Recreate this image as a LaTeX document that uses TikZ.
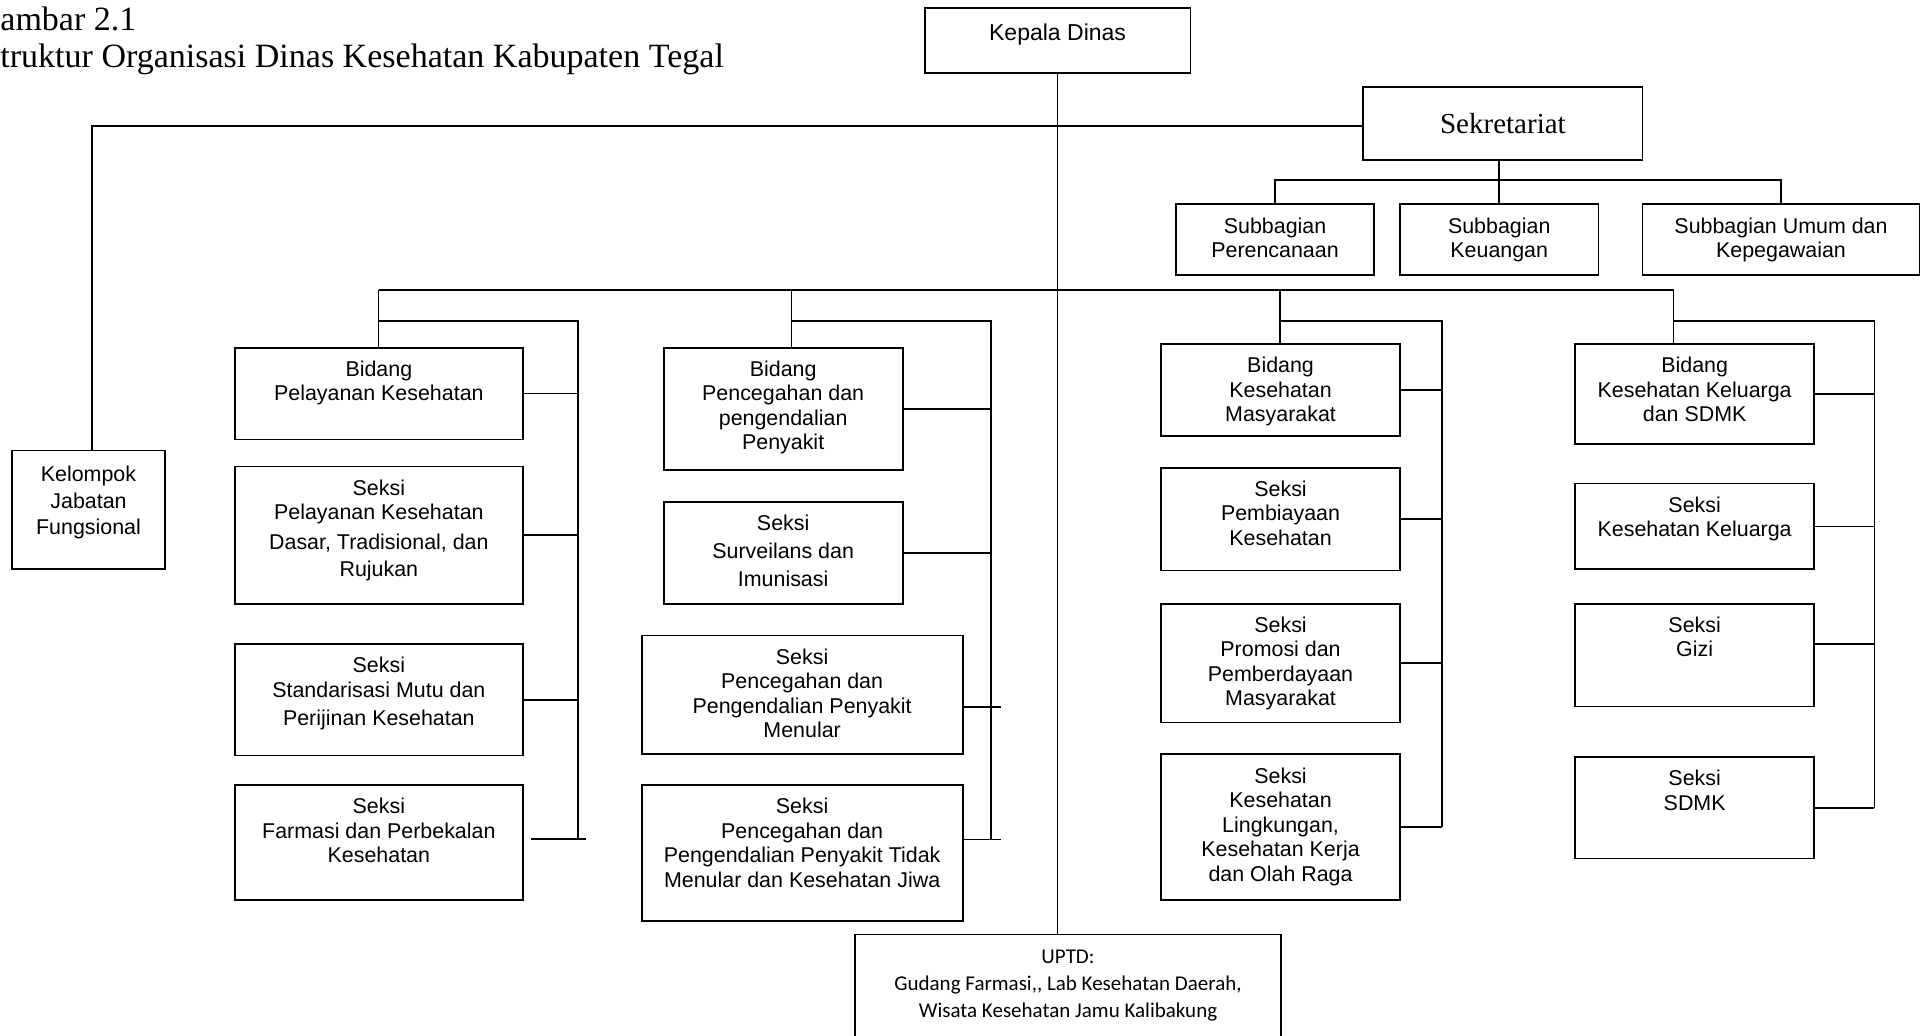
\documentclass[tikz,border=0pt]{standalone}
\usepackage{fontspec}
\setmainfont{Liberation Sans}
\newfontfamily\titlefont{Liberation Serif}
\newfontfamily\uptdfont{Carlito}
\newlength{\px}
\setlength{\px}{0.6122pt}
% box text: [first baseline]{width}{height}{lines}
\newcommand{\orgtext}[4][23.5]{\parbox[c][#3\px][t]{#2\px}{\centering\rule{0pt}{#1\px}#4}}

\begin{document}
\begin{tikzpicture}[x=\px,y=-\px]
    \tikzstyle{every node} = [font=\fontsize{10.7}{12.25}\selectfont]
    \tikzstyle{block} = [draw, rectangle, line width=0.9pt, inner sep=0pt, anchor=north west]
    \tikzstyle{wire} = [line width=0.9pt]
    \useasboundingbox (0,0) rectangle (1568,845);

    % title
    \node[anchor=base west, inner sep=0pt, font=\titlefont\fontsize{17}{20}\selectfont] (titleNo) at (0,25) {ambar 2.1};
    \node[anchor=base west, inner sep=0pt, font=\titlefont\fontsize{17}{20}\selectfont] (titleText) at (0,55) {truktur Organisasi Dinas Kesehatan Kabupaten Tegal};

    % place nodes
    \node[block, font=\fontsize{11.5}{13.5}\selectfont] (kepalaDinas) at (754,6) {\orgtext[26]{217}{53}{Kepala Dinas}};
    \node[block, font=\titlefont\fontsize{14.5}{17}\selectfont, minimum width=228\px, minimum height=60\px] (sekretariat) at (1112,70) {Sekretariat};
    \node[block] (subPerencanaan) at (959,166) {\orgtext{162}{58}{Subbagian\\Perencanaan}};
    \node[block] (subKeuangan) at (1142,166) {\orgtext{162}{58}{Subbagian\\Keuangan}};
    \node[block] (subUmum) at (1340,166) {\orgtext{226}{58}{Subbagian Umum dan\\Kepegawaian}};
    \node[block] (kelompok) at (9,367) {\orgtext[25]{125}{97}{Kelompok\\[1.2pt]Jabatan\\[1.2pt]Fungsional}};

    \node[block] (bidPelayanan) at (191,283) {\orgtext{235}{75}{Bidang\\Pelayanan Kesehatan}};
    \node[block] (seksiDasar) at (191,380) {\orgtext{235}{112}{Seksi\\Pelayanan Kesehatan\\[2.5pt]Dasar, Tradisional, dan\\[1.2pt]Rujukan}};
    \node[block] (seksiStandar) at (191,525) {\orgtext{235}{91}{Seksi\\Standarisasi Mutu dan\\[1.8pt]Perijinan Kesehatan}};
    \node[block] (seksiFarmasi) at (191,640) {\orgtext{235}{94}{Seksi\\Farmasi dan Perbekalan\\Kesehatan}};

    \node[block] (bidP2P) at (541,283) {\orgtext{195}{100}{Bidang\\Pencegahan dan\\pengendalian\\Penyakit}};
    \node[block] (seksiSurveilans) at (541,409) {\orgtext{195}{83}{Seksi\\[1.8pt]Surveilans dan\\[1.8pt]Imunisasi}};
    \node[block] (seksiMenular) at (523,518) {\orgtext{262}{97}{Seksi\\Pencegahan dan\\Pengendalian Penyakit\\Menular}};
    \node[block] (seksiTidakMenular) at (523,640) {\orgtext{262}{111}{Seksi\\Pencegahan dan\\Pengendalian Penyakit Tidak\\Menular dan Kesehatan Jiwa}};

    \node[block] (bidKesmas) at (947,280) {\orgtext{195}{75}{Bidang\\Kesehatan\\Masyarakat}};
    \node[block] (seksiPembiayaan) at (947,381) {\orgtext{195}{84}{Seksi\\Pembiayaan\\Kesehatan}};
    \node[block] (seksiPromosi) at (947,492) {\orgtext{195}{97}{Seksi\\Promosi dan\\Pemberdayaan\\Masyarakat}};
    \node[block] (seksiLingkungan) at (947,615) {\orgtext{195}{119}{Seksi\\Kesehatan\\Lingkungan,\\Kesehatan Kerja\\dan Olah Raga}};

    \node[block] (bidKeluarga) at (1285,280) {\orgtext{195}{82}{Bidang\\Kesehatan Keluarga\\dan SDMK}};
    \node[block] (seksiKeluarga) at (1285,394) {\orgtext{195}{70}{Seksi\\Kesehatan Keluarga}};
    \node[block] (seksiGizi) at (1285,492) {\orgtext{195}{84}{Seksi\\Gizi}};
    \node[block] (seksiSDMK) at (1285,617) {\orgtext{195}{83}{Seksi\\SDMK}};

    \node[block, font=\uptdfont\fontsize{10.5}{13.5}\selectfont] (uptd) at (697,762) {\orgtext{348}{84}{UPTD:\\Gudang Farmasi,, Lab Kesehatan Daerah,\\Wisata Kesehatan Jamu Kalibakung}};

    % Connections
    \coordinate (fungBar) at (75,103);
    \draw[wire] (kepalaDinas.south) -- (kepalaDinas.south |- uptd.north);
    \draw[wire] (sekretariat.west |- fungBar) -- (fungBar) -- (fungBar |- kelompok.north);
    \draw[wire] (sekretariat.south -| subKeuangan.north) -- (subKeuangan.north);
    \coordinate (subBar) at (0,147);
    \draw[wire] (subPerencanaan.north) -- (subPerencanaan.north |- subBar) -- (subUmum.north |- subBar) -- (subUmum.north);

    \coordinate (stemA) at (309,237);
    \coordinate (stemB) at (646,237);
    \coordinate (stemC) at (1045,237);
    \coordinate (stemD) at (1366,237);
    \coordinate (busA) at (472,262);
    \coordinate (busB) at (809,262);
    \coordinate (busC) at (1177,262);
    \coordinate (busD) at (1530,262);
    \draw[wire] (stemA) -- (stemD);

    % bidang pelayanan
    \draw[wire] (stemA) -- (stemA |- bidPelayanan.north);
    \draw[wire] (stemA |- busA) -- (busA) -- ([yshift=3\px]busA |- seksiFarmasi.east);
    \foreach \sect in {bidPelayanan,seksiDasar,seksiStandar}
        \draw[wire] (\sect.east) -- (\sect.east -| busA);
    \draw[wire] ([xshift=6\px,yshift=3\px]seksiFarmasi.east) -- ([xshift=6\px,yshift=3\px]seksiFarmasi.east -| busA);

    % bidang pencegahan
    \draw[wire] (stemB) -- (stemB |- bidP2P.north);
    \draw[wire] (stemB |- busB) -- (busB) -- ([yshift=11\px]seksiTidakMenular.east -| busB);
    \foreach \sect in {bidP2P,seksiSurveilans}
        \draw[wire] (\sect.east) -- (\sect.east -| busB);
    \draw[wire] ([yshift=-10\px]seksiMenular.east) -- ([xshift=8\px,yshift=-10\px]seksiMenular.east -| busB);
    \draw[wire] ([yshift=11\px]seksiTidakMenular.east) -- ([xshift=8\px,yshift=11\px]seksiTidakMenular.east -| busB);

    % bidang kesmas
    \draw[wire] (stemC) -- (stemC |- bidKesmas.north);
    \draw[wire] (stemC |- busC) -- (busC) -- (busC |- seksiLingkungan.east);
    \foreach \sect in {bidKesmas,seksiPembiayaan,seksiPromosi,seksiLingkungan}
        \draw[wire] (\sect.east) -- (\sect.east -| busC);

    % bidang keluarga
    \draw[wire] (stemD) -- (stemD |- bidKeluarga.north);
    \draw[wire] (stemD |- busD) -- (busD) -- (busD |- seksiSDMK.east);
    \foreach \sect in {bidKeluarga,seksiKeluarga,seksiSDMK}
        \draw[wire] (\sect.east) -- (\sect.east -| busD);
    \draw[wire] ([yshift=9\px]seksiGizi.east) -- ([yshift=9\px]seksiGizi.east -| busD);

\end{tikzpicture}
\end{document}
